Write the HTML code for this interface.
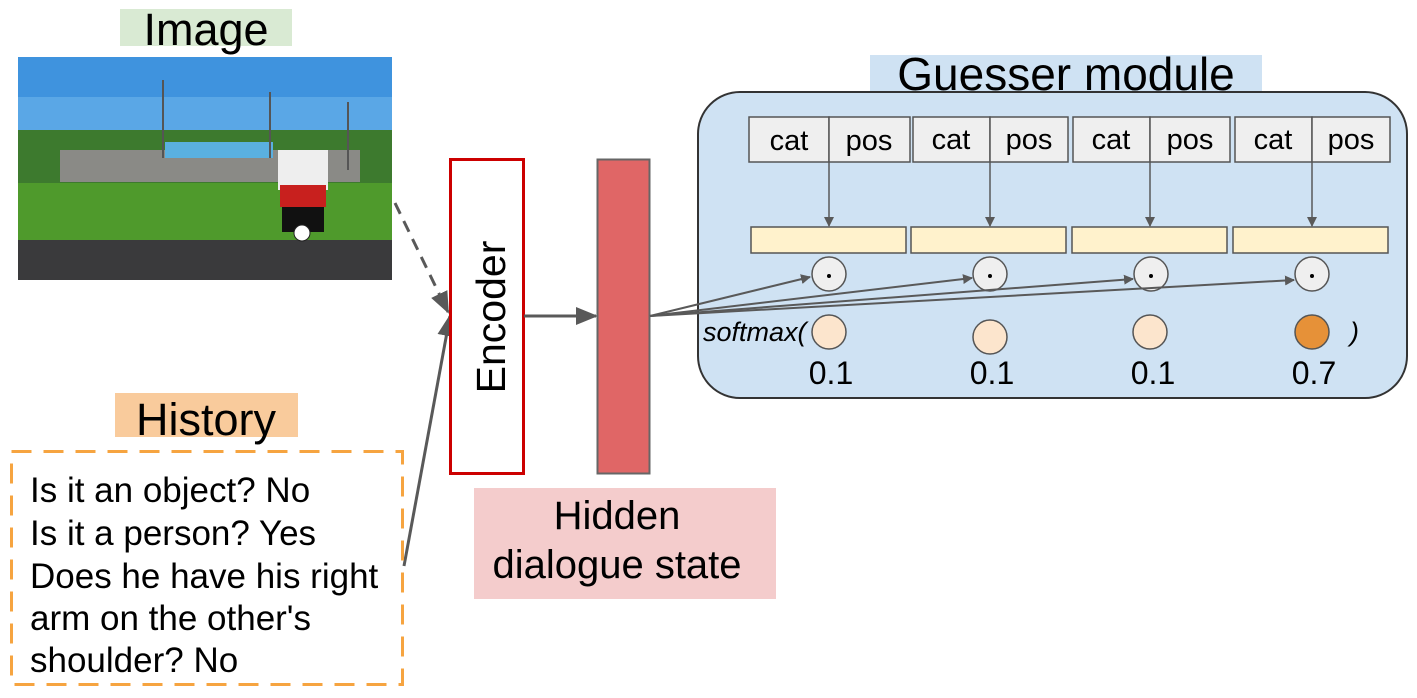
<!DOCTYPE html>
<html><head><meta charset="utf-8"><style>
html,body{margin:0;padding:0;background:#fff;}
svg{display:block;font-family:"Liberation Sans",sans-serif;}
</style></head><body>
<svg width="1417" height="698" viewBox="0 0 1417 698" xmlns="http://www.w3.org/2000/svg">
<defs>
<marker id="ah" markerWidth="10" markerHeight="10" refX="9" refY="5" orient="auto" markerUnits="userSpaceOnUse"><path d="M0,0 L10,5 L0,10 z" fill="#595959"/></marker>
<marker id="ahb" markerWidth="22" markerHeight="18" refX="20" refY="9" orient="auto" markerUnits="userSpaceOnUse"><path d="M0,0 L22,9 L0,18 z" fill="#595959"/></marker>
</defs>
<!-- Image label -->
<rect x="120" y="9" width="172" height="37" fill="#d9ead3"/>
<text x="206" y="45" font-size="45" text-anchor="middle" fill="#000">Image</text>
<!-- Photo -->
<rect x="18" y="57" width="374" height="90" fill="#5aa7e6"/>
<rect x="18" y="57" width="374" height="40" fill="#3f93de"/>
<rect x="18" y="130" width="374" height="55" fill="#3d7a2e"/>
<rect x="60" y="150" width="300" height="32" fill="#8a8a86"/>
<rect x="165" y="142" width="108" height="16" fill="#5ab0e0"/>
<rect x="18" y="183" width="374" height="60" fill="#4f9a2c"/>
<rect x="18" y="240" width="374" height="40" fill="#3a3a3c"/>
<rect x="278" y="150" width="50" height="40" fill="#eee"/>
<rect x="280" y="185" width="46" height="22" fill="#c8201e"/>
<rect x="282" y="207" width="42" height="25" fill="#111"/>
<circle cx="302" cy="233" r="8" fill="#fff" stroke="#222"/>
<line x1="163" y1="80" x2="163" y2="158" stroke="#555" stroke-width="2"/>
<line x1="270" y1="92" x2="270" y2="158" stroke="#555" stroke-width="2"/>
<line x1="348" y1="102" x2="348" y2="170" stroke="#555" stroke-width="2"/>
<!-- Arrows to encoder -->
<line x1="395" y1="203" x2="448" y2="312" stroke="#595959" stroke-width="3" stroke-dasharray="12,8" marker-end="url(#ahb)"/>
<line x1="404" y1="566" x2="450" y2="316" stroke="#595959" stroke-width="3" marker-end="url(#ahb)"/>
<!-- Encoder -->
<rect x="450.5" y="159.5" width="73" height="314" fill="#fff" stroke="#cc0000" stroke-width="3"/>
<text transform="translate(505,317) rotate(-90)" font-size="41" text-anchor="middle">Encoder</text>
<line x1="524" y1="316" x2="596" y2="316" stroke="#595959" stroke-width="3" marker-end="url(#ahb)"/>
<!-- Hidden state bar -->
<rect x="597.5" y="159.5" width="52" height="314" fill="#e06666" stroke="#666" stroke-width="2"/>
<rect x="474" y="488" width="302" height="111" fill="#f4cccc"/>
<text x="617" y="529" font-size="40" text-anchor="middle">Hidden</text>
<text x="617" y="578" font-size="40" text-anchor="middle">dialogue state</text>
<!-- History -->
<rect x="115" y="393" width="183" height="44" fill="#f9cb9c"/>
<text x="206" y="435" font-size="45" text-anchor="middle">History</text>
<rect x="11.5" y="451.5" width="391" height="233" fill="none" stroke="#f6a440" stroke-width="3" stroke-dasharray="20,12"/>
<g font-size="35" fill="#000">
<text x="30" y="502">Is it an object? No</text>
<text x="30" y="545">Is it a person? Yes</text>
<text x="30" y="588">Does he have his right</text>
<text x="30" y="630">arm on the other's</text>
<text x="30" y="672">shoulder? No</text>
</g>
<!-- Guesser -->
<rect x="870" y="55" width="392" height="38" fill="#cfe2f3"/>
<rect x="698" y="92" width="709" height="306" rx="42" fill="#cfe2f3" stroke="#333" stroke-width="2"/>
<text x="1066" y="90" font-size="46" text-anchor="middle">Guesser module</text>
<g stroke="#555" stroke-width="1.5">
<rect x="749" y="117" width="80" height="45" fill="#efefef"/><rect x="829" y="117" width="81" height="45" fill="#efefef"/>
<rect x="913" y="117" width="77" height="45" fill="#efefef"/><rect x="990" y="117" width="78" height="45" fill="#efefef"/>
<rect x="1073" y="117" width="77" height="45" fill="#efefef"/><rect x="1150" y="117" width="80" height="45" fill="#efefef"/>
<rect x="1235" y="117" width="77" height="45" fill="#efefef"/><rect x="1312" y="117" width="78" height="45" fill="#efefef"/>
<rect x="751" y="227" width="155" height="26" fill="#fff2cc"/>
<rect x="911" y="227" width="155" height="26" fill="#fff2cc"/>
<rect x="1072" y="227" width="155" height="26" fill="#fff2cc"/>
<rect x="1233" y="227" width="155" height="26" fill="#fff2cc"/>
</g>
<g font-size="29" text-anchor="middle">
<text x="789" y="150">cat</text><text x="869" y="150">pos</text>
<text x="951" y="149">cat</text><text x="1029" y="149">pos</text>
<text x="1111" y="149">cat</text><text x="1190" y="149">pos</text>
<text x="1273" y="149">cat</text><text x="1351" y="149">pos</text>
</g>
<g stroke="#595959" stroke-width="1.5" marker-end="url(#ah)">
<line x1="829" y1="162" x2="829" y2="226"/>
<line x1="990" y1="162" x2="990" y2="226"/>
<line x1="1150" y1="162" x2="1150" y2="226"/>
<line x1="1312" y1="162" x2="1312" y2="226"/>
</g>
<g fill="#efefef" stroke="#555" stroke-width="1.5">
<circle cx="829" cy="274" r="17"/><circle cx="990" cy="274" r="17"/><circle cx="1151" cy="274" r="17"/><circle cx="1312" cy="274" r="17"/>
</g>
<g fill="#000"><circle cx="829" cy="276" r="2"/><circle cx="990" cy="276" r="2"/><circle cx="1151" cy="276" r="2"/><circle cx="1312" cy="276" r="2"/></g>
<g stroke="#595959" stroke-width="2" marker-end="url(#ah)">
<line x1="650" y1="316" x2="810" y2="277"/>
<line x1="650" y1="316" x2="972" y2="278"/>
<line x1="650" y1="316" x2="1133" y2="279"/>
<line x1="650" y1="316" x2="1294" y2="280"/>
</g>
<g stroke="#555" stroke-width="1.5">
<circle cx="829" cy="332" r="17" fill="#fce5cd"/>
<circle cx="990" cy="337" r="17" fill="#fce5cd"/>
<circle cx="1150" cy="332" r="17" fill="#fce5cd"/>
<circle cx="1312" cy="332" r="17" fill="#e69138"/>
</g>
<text x="703" y="341" font-size="27" font-style="italic">softmax(</text>
<text x="1350" y="341" font-size="27" font-style="italic">)</text>
<g font-size="32" text-anchor="middle">
<text x="831" y="384">0.1</text><text x="992" y="384">0.1</text><text x="1153" y="384">0.1</text><text x="1314" y="384">0.7</text>
</g>
</svg>
</body></html>
